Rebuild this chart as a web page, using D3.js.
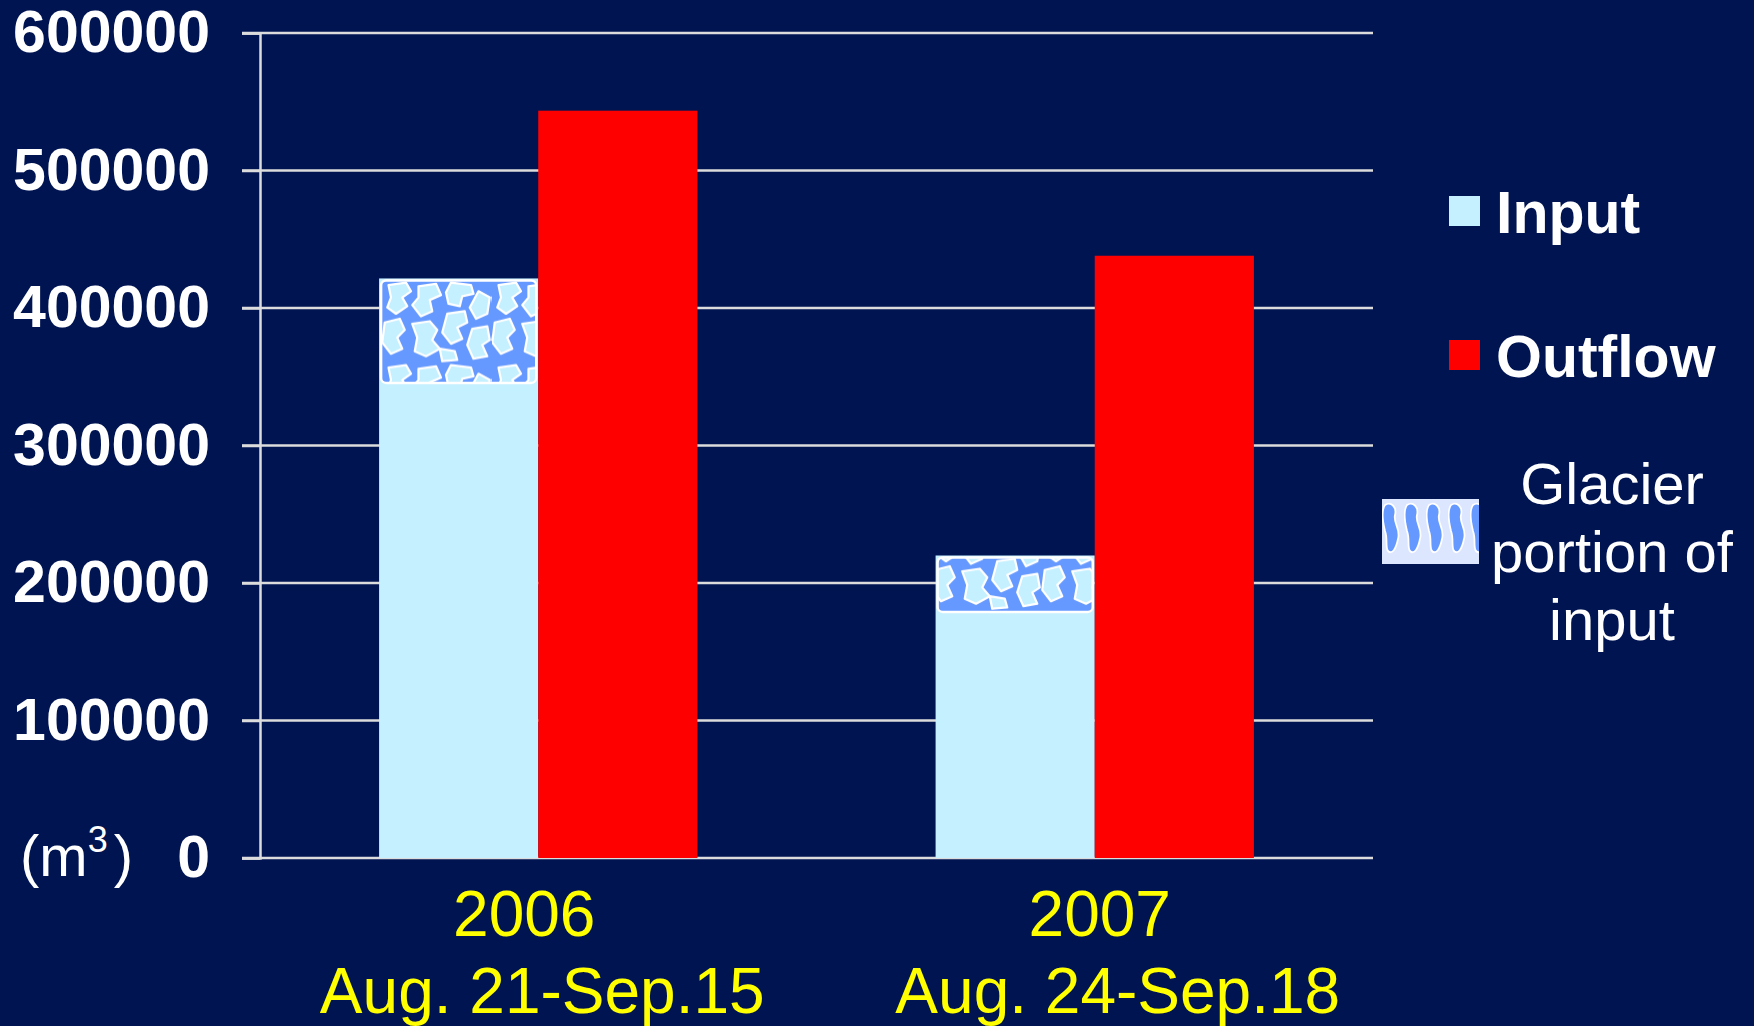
<!DOCTYPE html>
<html>
<head>
<meta charset="utf-8">
<script src="https://cdn.jsdelivr.net/npm/d3@7"></script>
<style>
  html, body { margin: 0; padding: 0; background: #001452; }
  svg { display: block; font-family: "Liberation Sans", Arial, sans-serif; }
</style>
</head>
<body>
<div id="chart"></div>
<script>
var W = 1754, H = 1026;

// data
var years = ["2006", "2007"];
var periods = ["Aug. 21-Sep.15", "Aug. 24-Sep.18"];
var inputVals = [421500, 220000];
var glacierVals = [76000, 41000];
var outflowVals = [543500, 438000];
var yTicks = [0, 100000, 200000, 300000, 400000, 500000, 600000];

var bg = "#001452",
    inputColor = "#c4f0ff",
    outColor = "#ff0000",
    iceBlue = "#6699ff";

var plotL = 260, plotR = 1373, plotT = 33, plotB = 858;

var x = d3.scaleBand().domain(years).range([plotL, plotR])
    .paddingInner(0.428).paddingOuter(0.214);
var y = d3.scaleLinear().domain([0, 600000]).range([plotB, plotT]);

var svg = d3.select("#chart").append("svg")
    .attr("width", W)
    .attr("height", H);

svg.append("rect").attr("width", W).attr("height", H).attr("fill", bg);

// glacier texture (blue ice with pale, white-edged holes)
var defs = svg.append("defs");
var pat = defs.append("pattern")
    .attr("id", "ice")
    .attr("patternUnits", "userSpaceOnUse")
    .attr("width", 88).attr("height", 66)
    .attr("patternTransform", "translate(381,280) scale(1.25)");
pat.append("rect").attr("width", 88).attr("height", 66).attr("fill", iceBlue);
var holes = [
  "M6,4 L20,2 L24,9 L17,14 L21,21 L12,27 L5,22 L8,14 Z",
  "M30,5 L44,3 L48,12 L39,16 L41,25 L32,29 L25,20 L30,14 Z",
  "M56,2 L72,4 L74,11 L65,13 L63,21 L54,19 L52,10 Z",
  "M78,9 L87,14 L85,27 L76,31 L71,22 Z",
  "M3,34 L15,31 L19,40 L13,46 L17,55 L8,59 L1,50 Z",
  "M25,35 L39,33 L45,40 L41,48 L47,55 L36,61 L27,57 L29,46 Z",
  "M53,27 L67,25 L69,34 L61,38 L65,47 L56,51 L49,42 Z",
  "M73,39 L85,37 L87,48 L81,52 L85,61 L74,63 L69,52 Z",
  "M47,55 L59,57 L61,64 L49,65 Z"
];
pat.selectAll("path").data(holes).enter().append("path")
    .attr("d", function(d) { return d; })
    .attr("fill", inputColor)
    .attr("stroke", "#fff")
    .attr("stroke-width", 1.8)
    .attr("stroke-linejoin", "round");

var pat2 = defs.append("pattern")
    .attr("id", "ice2")
    .attr("patternUnits", "userSpaceOnUse")
    .attr("width", 22).attr("height", 66)
    .attr("x", 1382).attr("y", 499);
pat2.append("rect").attr("width", 22).attr("height", 66).attr("fill", "#dce6ff");
pat2.append("path")
    .attr("d", "M3,6 C9,2 15,8 13,16 C11,24 19,30 16,40 C14,50 10,56 6,52 C3,48 6,40 3,32 C1,24 -1,12 3,6Z")
    .attr("fill", iceBlue).attr("stroke", "#fff").attr("stroke-width", 1.8);

// gridlines
svg.append("g").selectAll("line")
    .data(yTicks)
    .enter().append("line")
    .attr("x1", plotL - 18).attr("x2", plotR)
    .attr("y1", function(d) { return y(d); })
    .attr("y2", function(d) { return y(d); })
    .attr("stroke", "#dcdcdc")
    .attr("stroke-width", 2.5);

// y axis
var yAxis = svg.append("g")
    .attr("transform", "translate(" + plotL + ",0)")
    .call(d3.axisLeft(y).tickValues(yTicks).tickSize(18).tickPadding(32).tickFormat(d3.format("d")));
yAxis.select(".domain").attr("stroke", "#dcdcdc").attr("stroke-width", 2.5);
yAxis.selectAll(".tick line").attr("stroke", "#dcdcdc").attr("stroke-width", 2.5);
yAxis.selectAll(".tick text")
    .attr("fill", "#fff")
    .attr("font-size", 59)
    .attr("font-weight", "bold")
    .attr("font-family", "Liberation Sans, Arial, sans-serif");

// bars
var sub = x.bandwidth() / 2;
var g = svg.append("g");

g.selectAll(".input").data(years).enter().append("rect")
    .attr("x", function(d) { return x(d); })
    .attr("y", function(d, i) { return y(inputVals[i]); })
    .attr("width", sub)
    .attr("height", function(d, i) { return plotB - y(inputVals[i]); })
    .attr("fill", inputColor);

g.selectAll(".glacier").data(years).enter().append("rect")
    .attr("x", function(d) { return x(d) + 2; })
    .attr("y", function(d, i) { return y(inputVals[i]) + 2; })
    .attr("width", sub - 4)
    .attr("height", function(d, i) { return y(inputVals[i] - glacierVals[i]) - y(inputVals[i]) - 2; })
    .attr("rx", 5)
    .attr("fill", "url(#ice)")
    .attr("stroke", "#fff")
    .attr("stroke-width", 2.5);

g.selectAll(".outflow").data(years).enter().append("rect")
    .attr("x", function(d) { return x(d) + sub; })
    .attr("y", function(d, i) { return y(outflowVals[i]); })
    .attr("width", sub)
    .attr("height", function(d, i) { return plotB - y(outflowVals[i]); })
    .attr("fill", outColor);

// category labels
var yearShift = [-14, 5], periodShift = [4, 23];
svg.append("g").selectAll("text")
    .data(years).enter().append("text")
    .attr("x", function(d, i) { return x(d) + x.bandwidth() / 2 + yearShift[i]; })
    .attr("y", 936)
    .attr("text-anchor", "middle")
    .attr("fill", "#ffff00")
    .attr("font-size", 64)
    .text(function(d) { return d; });
svg.append("g").selectAll("text")
    .data(periods).enter().append("text")
    .attr("x", function(d, i) { return x(years[i]) + x.bandwidth() / 2 + periodShift[i]; })
    .attr("y", 1013)
    .attr("text-anchor", "middle")
    .attr("fill", "#ffff00")
    .attr("font-size", 64)
    .text(function(d) { return d; });

// unit label
var unit = svg.append("text")
    .attr("x", 20).attr("y", 876)
    .attr("fill", "#fff")
    .attr("font-size", 58);
unit.append("tspan").text("(m");
unit.append("tspan").attr("font-size", 36).attr("dy", -24).text("3");
unit.append("tspan").attr("dy", 24).attr("dx", 6).text(")");

// legend
var legend = svg.append("g");
var legItems = [
  { name: "Input", color: inputColor, y: 196 },
  { name: "Outflow", color: outColor, y: 340 }
];
legend.selectAll("rect.sw").data(legItems).enter().append("rect")
    .attr("x", 1449).attr("y", function(d) { return d.y; })
    .attr("width", 31).attr("height", 30)
    .attr("fill", function(d) { return d.color; });
legend.selectAll("text.lab").data(legItems).enter().append("text")
    .attr("x", 1496).attr("y", function(d) { return d.y + 37; })
    .attr("fill", "#fff")
    .attr("font-size", 59)
    .attr("font-weight", "bold")
    .text(function(d) { return d.name; });

legend.append("rect")
    .attr("x", 1382).attr("y", 499)
    .attr("width", 97).attr("height", 65)
    .attr("fill", "url(#ice2)");

var glacierLines = ["Glacier", "portion of", "input"];
legend.selectAll("text.gl").data(glacierLines).enter().append("text")
    .attr("x", 1612)
    .attr("y", function(d, i) { return 504 + i * 68; })
    .attr("text-anchor", "middle")
    .attr("fill", "#fff")
    .attr("font-size", 58)
    .text(function(d) { return d; });
</script>
</body>
</html>
